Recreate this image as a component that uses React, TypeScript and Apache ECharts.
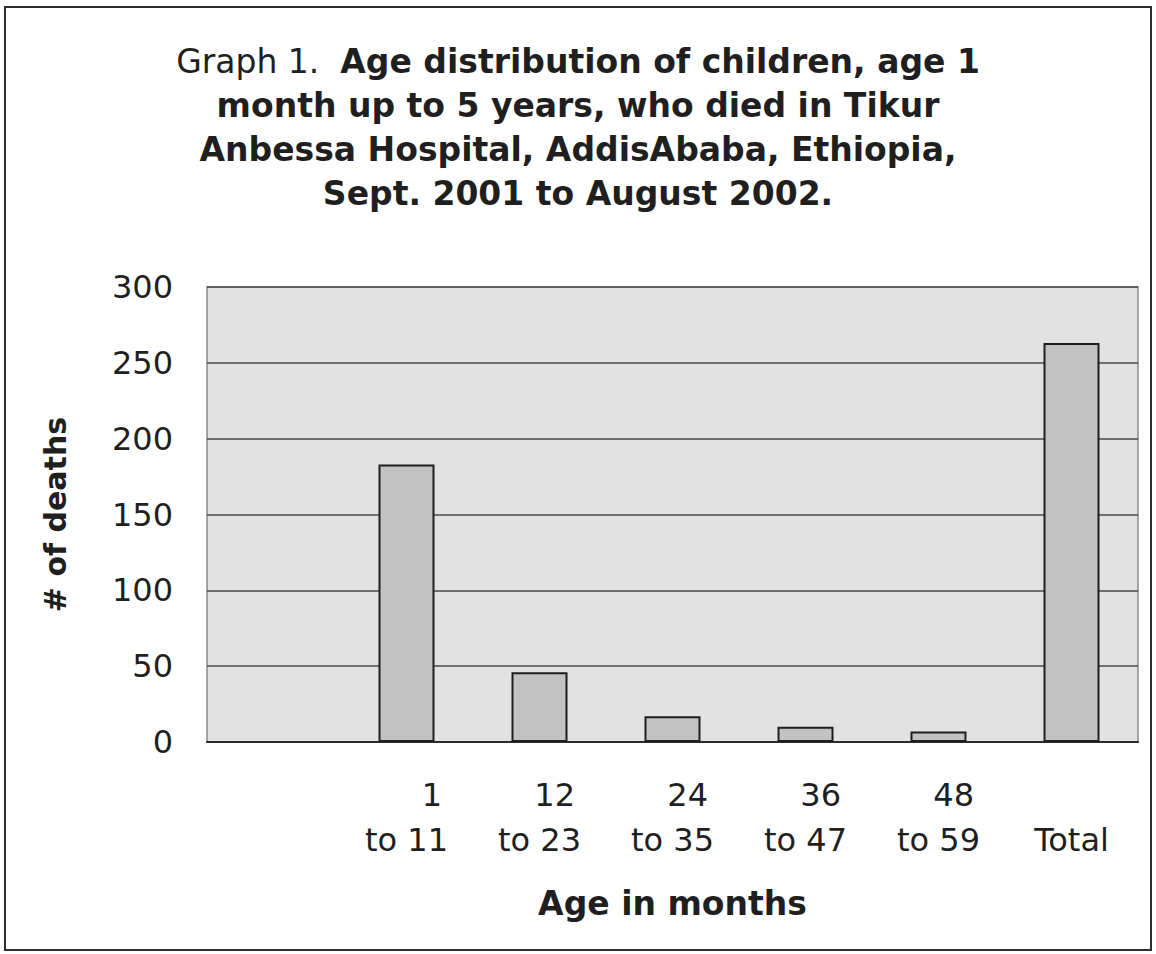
import React, { useEffect, useRef } from "react";
import * as echarts from "echarts";

const ageFrom = ["", "1", "12", "24", "36", "48", ""];
const ageTo = ["", "to 11", "to 23", "to 35", "to 47", "to 59", "Total"];
const deaths = ["-", 183, 46, 17, 10, 7, 263];
const yMin = 0;
const yMax = 300;
const yStep = 50;
const titleLead = "Graph 1.  ";
const titleLines = [
  "Age distribution of children, age 1",
  "month up to 5 years, who died in Tikur",
  "Anbessa Hospital, AddisAbaba, Ethiopia,",
  "Sept. 2001 to August 2002.",
];
const xName = "Age in months";
const yName = "# of deaths";

const FONT = "DejaVu Sans";
const INK = "#1f1f1f";

export default function App() {
  const ref = useRef<HTMLDivElement>(null);
  useEffect(() => {
    if (!ref.current) return;
    const chart = echarts.init(ref.current, undefined, { renderer: "svg" });
    const categories = ageFrom.map((a, i) => a + "\n" + ageTo[i]);
    const titleText =
      "{n|" + titleLead + "}" +
      titleLines.map((l) => "{b|" + l + "}").join("\n");
    chart.setOption({
      animation: false,
      backgroundColor: "#ffffff",
      grid: {
        left: 207,
        right: 18,
        top: 287,
        bottom: 212,
        show: true,
        backgroundColor: "#e2e2e2",
        borderColor: "#8a8a8a",
        borderWidth: 1.5,
      },
      graphic: [
        {
          type: "rect",
          silent: true,
          shape: { x: 5, y: 7, width: 1146, height: 943 },
          style: { fill: "none", stroke: "#2e2e2e", lineWidth: 2 },
        },
        {
          type: "text",
          x: 578,
          y: 39,
          style: {
            text: titleText,
            align: "center",
            verticalAlign: "top",
            fill: INK,
            rich: {
              n: { fontFamily: FONT, fontSize: 33, fontWeight: "normal", lineHeight: 44, fill: INK },
              b: { fontFamily: FONT, fontSize: 33, fontWeight: "bold", lineHeight: 44, fill: INK },
            },
          },
        },
      ],
      xAxis: {
        type: "category",
        data: categories,
        boundaryGap: true,
        axisTick: { show: false },
        axisLine: { show: true, lineStyle: { color: "#2a2a2a", width: 2 } },
        axisLabel: {
          interval: 0,
          margin: 30,
          fontFamily: FONT,
          fontSize: 32,
          color: INK,
          lineHeight: 45,
          formatter: (v: string) => {
            const parts = v.split("\n");
            return "{t|" + (parts[0] || " ") + "}\n{b|" + parts[1] + "}";
          },
          rich: {
            t: { align: "right", padding: [0, 6, 0, 0], fontFamily: FONT, fontSize: 32, lineHeight: 45, color: INK },
            b: { fontFamily: FONT, fontSize: 32, lineHeight: 45, color: INK },
          },
        },
        name: xName,
        nameLocation: "middle",
        nameGap: 145,
        nameTextStyle: { fontFamily: FONT, fontWeight: "bold", fontSize: 33, color: INK },
      },
      yAxis: {
        type: "value",
        min: yMin,
        max: yMax,
        interval: yStep,
        axisLine: { show: false },
        axisTick: { show: false },
        axisLabel: { margin: 34, fontFamily: FONT, fontSize: 32, color: INK },
        splitLine: { lineStyle: { color: "#4a4a4a", width: 1.5 } },
        name: yName,
        nameLocation: "middle",
        nameGap: 137,
        nameRotate: 90,
        nameTextStyle: { fontFamily: FONT, fontWeight: "bold", fontSize: 30, color: INK },
      },
      series: [
        {
          type: "bar",
          data: deaths,
          barWidth: 56,
          itemStyle: { color: "#c2c2c2", borderColor: "#1e1e1e", borderWidth: 2 },
        },
      ],
    });
    return () => chart.dispose();
  }, []);
  return (
    <div
      ref={ref}
      style={{ position: "absolute", left: 0, top: 0, width: 1156, height: 954 }}
    />
  );
}
